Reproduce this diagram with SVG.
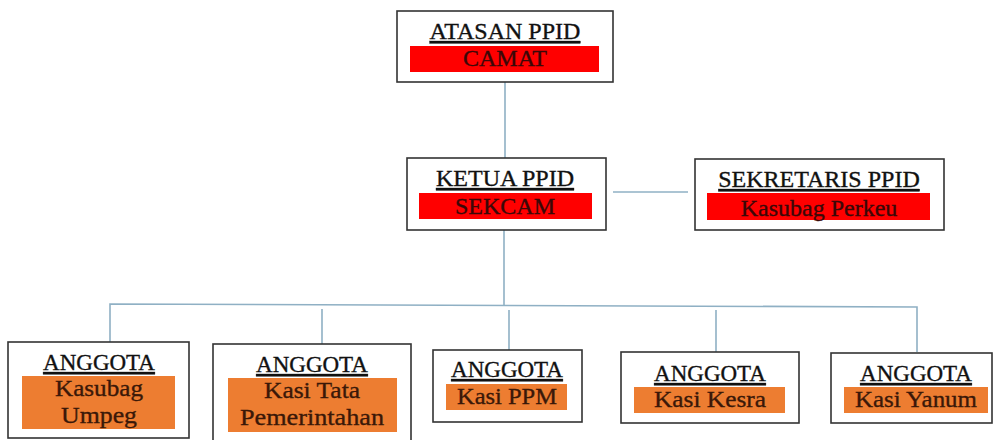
<svg xmlns="http://www.w3.org/2000/svg" width="993" height="440" viewBox="0 0 993 440">
<style>
.box{fill:#fff;stroke:#333;stroke-width:1.6}
.red{fill:#ff0000}
.org{fill:#ed7d31}
.t{font-family:"Liberation Serif","Times New Roman",serif;text-anchor:middle;stroke-width:0.35}
.h{fill:#111;stroke:#111;text-decoration:underline}
.r{fill:#3a0808;stroke:#3a0808}
.o{fill:#3a1808;stroke:#3a1808}
.c{fill:none;stroke:#8fb0c4;stroke-width:1.6}
</style>
<rect width="993" height="440" fill="#fff"/>
<g id="connectors">
<line class="c" x1="505" y1="82" x2="505" y2="158"/>
<line class="c" x1="613" y1="192" x2="688" y2="192"/>
<line class="c" x1="504" y1="230" x2="504" y2="305"/>
<polyline class="c" points="110,342 110,304 917,307 917,352"/>
<line class="c" x1="322" y1="309" x2="322" y2="344"/>
<line class="c" x1="509" y1="310" x2="509" y2="350"/>
<line class="c" x1="716" y1="310" x2="716" y2="352"/>
</g>
<g id="atasan">
<rect class="box" x="397" y="11" width="216" height="71"/>
<rect class="red" x="410" y="46" width="189" height="26"/>
<text class="t h" x="505" y="39" font-size="24">ATASAN PPID</text>
<text class="t r" x="505" y="66" font-size="24">CAMAT</text>
</g>
<g id="ketua">
<rect class="box" x="407" y="158" width="199" height="72"/>
<rect class="red" x="419" y="193" width="173" height="26"/>
<text class="t h" x="505" y="186" font-size="24">KETUA PPID</text>
<text class="t r" x="505" y="214" font-size="24">SEKCAM</text>
</g>
<g id="sekretaris">
<rect class="box" x="695" y="159" width="249" height="71"/>
<rect class="red" x="707" y="193" width="223" height="27"/>
<text class="t h" x="819" y="187" font-size="24">SEKRETARIS PPID</text>
<text class="t r" x="819" y="216" font-size="24">Kasubag Perkeu</text>
</g>
<g id="anggota1">
<rect class="box" x="8" y="342" width="181" height="96"/>
<rect class="org" x="22" y="376" width="153" height="53"/>
<text class="t h" x="99" y="370" font-size="23">ANGGOTA</text>
<text class="t o" x="99" y="396" font-size="24" textLength="88" lengthAdjust="spacingAndGlyphs">Kasubag</text>
<text class="t o" x="99" y="423" font-size="24" textLength="76" lengthAdjust="spacingAndGlyphs">Umpeg</text>
</g>
<g id="anggota2">
<rect class="box" x="213" y="344" width="198" height="100"/>
<rect class="org" x="228" y="378" width="169" height="54"/>
<text class="t h" x="312" y="372" font-size="23">ANGGOTA</text>
<text class="t o" x="312" y="398" font-size="24" textLength="96" lengthAdjust="spacingAndGlyphs">Kasi Tata</text>
<text class="t o" x="312" y="425" font-size="24" textLength="144" lengthAdjust="spacingAndGlyphs">Pemerintahan</text>
</g>
<g id="anggota3">
<rect class="box" x="433" y="350" width="149" height="72"/>
<rect class="org" x="446" y="384" width="121" height="26"/>
<text class="t h" x="507" y="377" font-size="23">ANGGOTA</text>
<text class="t o" x="507" y="404" font-size="24" textLength="100" lengthAdjust="spacingAndGlyphs">Kasi PPM</text>
</g>
<g id="anggota4">
<rect class="box" x="621" y="352" width="178" height="71"/>
<rect class="org" x="634" y="387" width="151" height="26"/>
<text class="t h" x="710" y="381" font-size="23">ANGGOTA</text>
<text class="t o" x="710" y="407" font-size="24" textLength="112" lengthAdjust="spacingAndGlyphs">Kasi Kesra</text>
</g>
<g id="anggota5">
<rect class="box" x="831" y="353" width="161" height="70"/>
<rect class="org" x="844" y="387" width="144" height="26"/>
<text class="t h" x="916" y="381" font-size="23">ANGGOTA</text>
<text class="t o" x="916" y="407" font-size="24" textLength="122" lengthAdjust="spacingAndGlyphs">Kasi Yanum</text>
</g>
</svg>
